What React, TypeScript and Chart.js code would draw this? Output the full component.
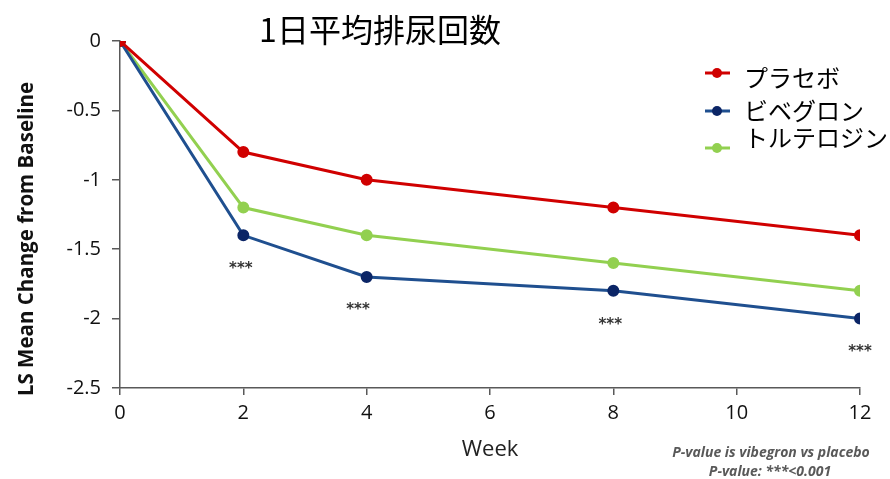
import React, { useEffect, useRef } from "react";
import { Chart, registerables } from "chart.js";
Chart.register(...registerables);

const weeks = [0, 2, 4, 8, 12];
const placebo = [0, -0.8, -1.0, -1.2, -1.4];
const vibegron = [0, -1.4, -1.7, -1.8, -2.0];
const tolterodine = [0, -1.2, -1.4, -1.6, -1.8];
const seriesNames = ["プラセボ", "ビベグロン", "トルテロジン"];
const lineColors = ["#d00000", "#1f4f8f", "#92d050"];
const pointColors = ["#d00000", "#0b2566", "#92d050"];
const yTickLabels: Record<string, string> = { "0": "0", "-0.5": "-0.5", "-1": "-1", "-1.5": "-1.5", "-2": "-2", "-2.5": "-2.5" };
const starX = [1.96, 3.86, 7.95, 12];
const starY = [-1.64, -1.94, -2.05, -2.24];
const starLabel = "***";
const titleText = "1日平均排尿回数";
const xTitle = "Week";
const yTitle = "LS Mean Change from Baseline";
const footnotes = ["P-value is vibegron vs placebo", "P-value: ***<0.001"];

const toPts = (vals: number[]) => vals.map((v, i) => ({ x: weeks[i], y: v }));

const annotPlugin = {
  id: "annot",
  afterDraw(chart: any) {
    const ctx = chart.ctx as CanvasRenderingContext2D;
    const xs = chart.scales.x;
    const ys = chart.scales.y;
    ctx.save();
    ctx.textAlign = "center";
    ctx.textBaseline = "middle";
    // title
    ctx.fillStyle = "#000";
    ctx.font = '32px "Noto Sans CJK JP"';
    ctx.fillText(titleText, 380, 30);
    // axis titles
    ctx.font = '22px "Open Sans"';
    ctx.fillStyle = "#222";
    ctx.fillText(xTitle, 490, 450);
    ctx.save();
    ctx.translate(27, 239);
    ctx.rotate(-Math.PI / 2);
    ctx.font = 'bold 20.5px "Open Sans"';
    ctx.fillStyle = "#111";
    ctx.fillText(yTitle, 0, 0);
    ctx.restore();
    // stars
    ctx.font = 'bold 15px "DejaVu Sans"';
    ctx.fillStyle = "#333";
    starX.forEach((sx, i) => {
      ctx.fillText(starLabel, xs.getPixelForValue(sx), ys.getPixelForValue(starY[i]));
    });
    // footnotes
    ctx.font = 'italic bold 14px "Open Sans"';
    ctx.fillStyle = "#595959";
    ctx.fillText(footnotes[0], 771, 453);
    ctx.fillText(footnotes[1], 770, 472);
    // legend
    const lineY = [73, 111, 148];
    const textY = [78, 111, 138];
    ctx.textAlign = "left";
    ctx.font = '24px "Noto Sans CJK JP"';
    seriesNames.forEach((name, i) => {
      ctx.strokeStyle = lineColors[i];
      ctx.lineWidth = 3;
      ctx.beginPath();
      ctx.moveTo(705, lineY[i]);
      ctx.lineTo(730, lineY[i]);
      ctx.stroke();
      ctx.fillStyle = pointColors[i];
      ctx.beginPath();
      ctx.arc(717, lineY[i], 5, 0, Math.PI * 2);
      ctx.fill();
      ctx.fillStyle = "#000";
      ctx.fillText(name, 744, textY[i]);
    });
    ctx.restore();
  },
};

export default function App() {
  const ref = useRef<HTMLCanvasElement>(null);
  useEffect(() => {
    document.body.style.margin = "0";
    const mk = (i: number, vals: number[]) => ({
      label: seriesNames[i],
      data: toPts(vals),
      borderColor: lineColors[i],
      backgroundColor: pointColors[i],
      pointBackgroundColor: pointColors[i],
      pointBorderColor: pointColors[i],
      pointRadius: 4.5,
      borderWidth: 3,
      tension: 0,
    });
    const chart = new Chart(ref.current!, {
      type: "line",
      data: { datasets: [mk(0, placebo), mk(1, vibegron), mk(2, tolterodine)] },
      options: {
        animation: false,
        responsive: true,
        maintainAspectRatio: false,
        layout: { padding: { top: 41, right: 30, left: 0, bottom: 0 }, autoPadding: false },
        plugins: { legend: { display: false }, tooltip: { enabled: false }, title: { display: false } },
        scales: {
          x: {
            type: "linear",
            min: 0,
            max: 12,
            ticks: { stepSize: 2, color: "#111", font: { family: "Open Sans", size: 20 }, padding: 6 },
            grid: { display: true, drawOnChartArea: false, drawTicks: true, tickLength: 7, color: "#595959", lineWidth: 1.5 },
            border: { color: "#595959", width: 1.5 },
            afterFit: (s: any) => { s.height = 91; },
          },
          y: {
            min: -2.5,
            max: 0,
            ticks: {
              stepSize: 0.5,
              color: "#111",
              font: { family: "Open Sans", size: 20 },
              padding: 11,
              callback: (v: any) => yTickLabels[String(v)] ?? String(v),
            },
            grid: { display: true, drawOnChartArea: false, drawTicks: true, tickLength: 8, color: "#595959", lineWidth: 1.5 },
            border: { color: "#595959", width: 1.5 },
            afterFit: (s: any) => { s.width = 120; },
          },
        },
      },
      plugins: [annotPlugin],
    });
    return () => chart.destroy();
  }, []);
  return (
    <div style={{ width: 890, height: 479, position: "relative", background: "#fff" }}>
      <canvas ref={ref} />
    </div>
  );
}
